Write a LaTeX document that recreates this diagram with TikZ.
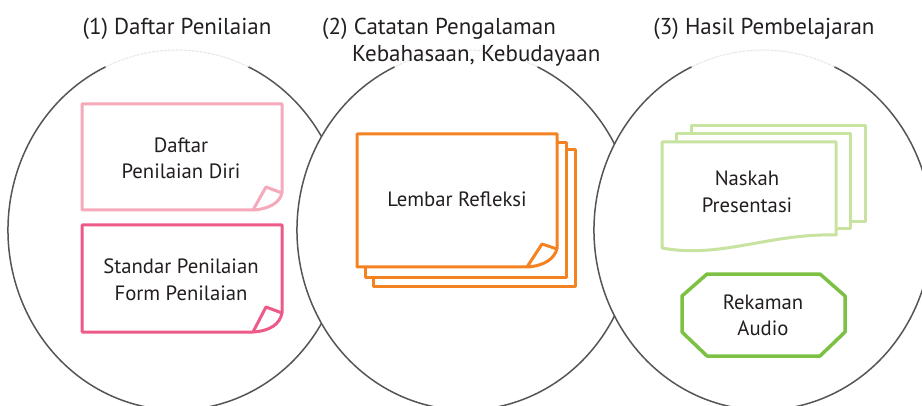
\documentclass[tikz,border=0pt]{standalone}
\usepackage{fontspec}
\setmainfont{PT Sans}
\definecolor{ringgray}{HTML}{555555}
\definecolor{ringfaint}{HTML}{E6E6E6}
\definecolor{pinklight}{HTML}{F5A9BA}
\definecolor{pinkdark}{HTML}{EE5A88}
\definecolor{orangeline}{HTML}{F58220}
\definecolor{greenlight}{HTML}{C8E2A0}
\definecolor{greendark}{HTML}{7CC143}
\definecolor{textdark}{HTML}{231F20}
\tikzset{
  ring/.style={draw=ringgray, line width=1.5pt},
  ringtop/.style={draw=ringfaint, line width=1pt, dash pattern=on 3pt off 1pt},
  sheet/.style={line width=3pt, line join=round, fill=white},
  lbl/.style={text=textdark, font=\fontsize{20.7}{26.5}\selectfont, align=center, inner sep=0pt},
  ttl/.style={text=textdark, font=\fontsize{23}{27}\selectfont, inner sep=0pt}
}
\begin{document}
\begin{tikzpicture}[x=1pt,y=1pt]
\useasboundingbox (0,0) rectangle (922,405);
\clip (0,0) rectangle (922,405);
% rings (each later ring covers the previous)
\foreach \cx in {177,466,763}{
  \fill[white] (\cx,175) ellipse [x radius=169, y radius=180];
  \draw[ring] (\cx,175) ++(115:169 and 180) arc [start angle=115, end angle=425, x radius=169, y radius=180];
  \draw[ringtop] (\cx,175) ++(65:169 and 180) arc [start angle=65, end angle=115, x radius=169, y radius=180];
}
% titles
\node[ttl, anchor=base] (t1) at (177,370) {(1) Daftar Penilaian};
\node[ttl, anchor=base west] (t2a) at (322,370) {(2) Catatan Pengalaman};
\node[ttl, anchor=base west] (t2b) at (352,343) {Kebahasaan, Kebudayaan};
\node[ttl, anchor=base] (t3) at (764,370) {(3) Hasil Pembelajaran};
% box 1: light pink sheet with curl
\draw[sheet, draw=pinklight] (282,212) -- (282,301) -- (82,301) -- (82,195) -- (253,195)
  .. controls (270,196) and (280,203) .. (282,212);
\draw[sheet, draw=pinklight, fill=none] (253,195) -- (266,218) -- (282,212);
\node[lbl] (b1) at (181,246.5) {Daftar\\Penilaian Diri};
% box 2: pink sheet with curl
\draw[sheet, draw=pinkdark] (282,92) -- (282,180) -- (82,180) -- (82,73) -- (253,73)
  .. controls (270,74) and (280,81) .. (282,92);
\draw[sheet, draw=pinkdark, fill=none] (253,73) -- (266,98) -- (282,92);
\node[lbl] (b2) at (181,125) {Standar Penilaian\\Form Penilaian};
% box 3: orange stack
\draw[sheet, draw=orangeline] (373,119) rectangle (575,255);
\draw[sheet, draw=orangeline] (365,128) rectangle (566,262);
\draw[sheet, draw=orangeline] (557,156) -- (557,271) -- (357,271) -- (357,138) -- (527,138)
  .. controls (544,139) and (554,146) .. (557,156);
\draw[sheet, draw=orangeline, fill=none] (527,138) -- (542,161) -- (557,156);
\node[lbl, anchor=base] (b3) at (457,198) {Lembar Refleksi};
% box 4: light green document stack
\draw[sheet, draw=greenlight] (691,183) rectangle (865,279);
\draw[sheet, draw=greenlight] (676,176) rectangle (850,271);
\draw[sheet, draw=greenlight] (662,263) -- (836,263) -- (836,170)
  .. controls (770,172) and (720,146) .. (662,157) -- cycle;
\node[lbl] (b4) at (747,213) {Naskah\\Presentasi};
% box 5: green octagon
\draw[line width=3.5pt, draw=greendark, line join=round] (707,131) -- (820,131) -- (845,109) -- (845,73) -- (820,49) -- (707,49) -- (682,73) -- (682,109) -- cycle;
\node[lbl] (b5) at (763,89.5) {Rekaman\\Audio};
\end{tikzpicture}
\end{document}
